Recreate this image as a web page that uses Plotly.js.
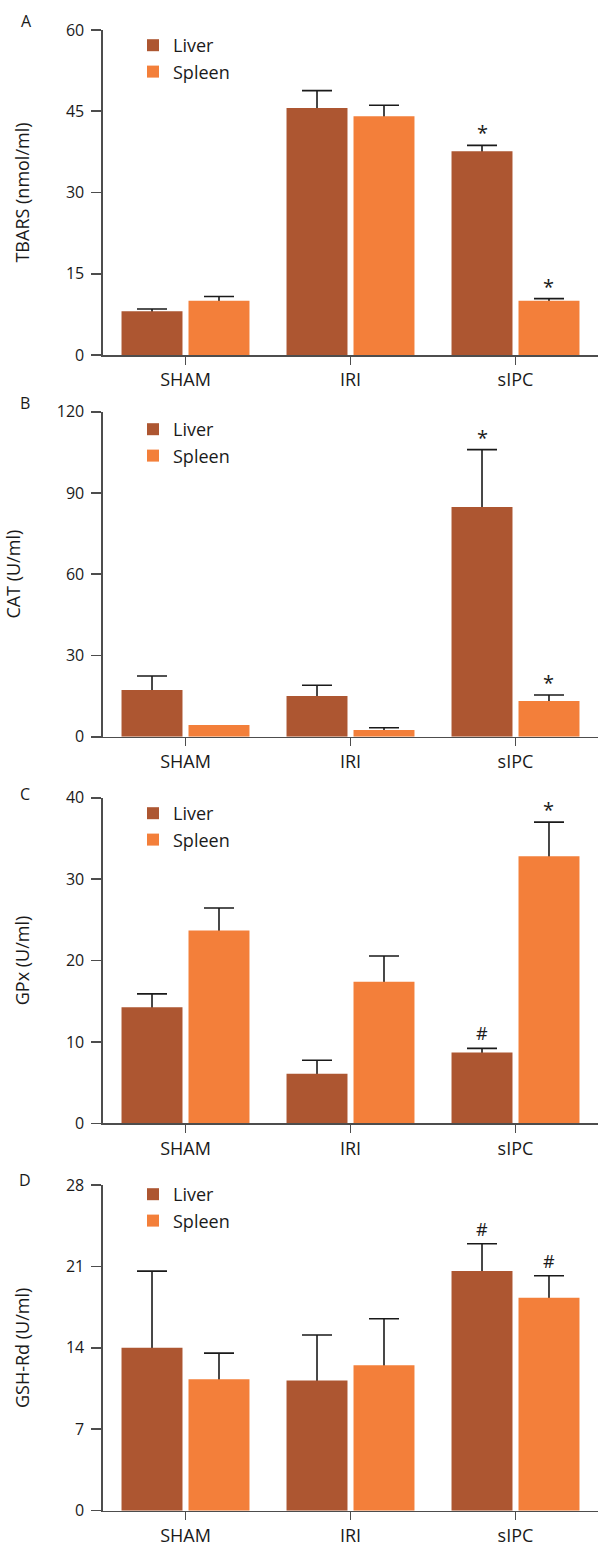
<!DOCTYPE html>
<html>
<head>
<meta charset="utf-8">
<script src="https://cdn.plot.ly/plotly-3.0.1.min.js"></script>
<style>html,body{margin:0;padding:0;background:#fff}#chart{width:599px;height:1544px}</style>
</head>
<body>
<div id="chart"></div>
<script>
// ---- data ----
const categories = ['SHAM', 'IRI', 'sIPC'];
const seriesNames = ['Liver', 'Spleen'];
const seriesColors = ['#AD5631', '#F37F3A'];
const panelLetters = ['A', 'B', 'C', 'D'];
const yTitles = ['TBARS (nmol/ml)', 'CAT (U/ml)', 'GPx (U/ml)', 'GSH-Rd (U/ml)'];
const yMax = [60, 120, 40, 28];
const yStep = [15, 30, 10, 7];

const tbarsLiver = [8.1, 45.6, 37.6];
const tbarsLiverErr = [0.4, 3.2, 1.1];
const tbarsSpleen = [10.0, 44.1, 10.0];
const tbarsSpleenErr = [0.8, 2.0, 0.4];
const tbarsLiverSig = ['', '', '*'];
const tbarsSpleenSig = ['', '', '*'];

const catLiver = [17.2, 15.0, 84.8];
const catLiverErr = [5.2, 4.0, 21.2];
const catSpleen = [4.3, 2.5, 13.2];
const catSpleenErr = [null, 0.8, 2.2];
const catLiverSig = ['', '', '*'];
const catSpleenSig = ['', '', '*'];

const gpxLiver = [14.25, 6.1, 8.7];
const gpxLiverErr = [1.65, 1.65, 0.5];
const gpxSpleen = [23.7, 17.4, 32.8];
const gpxSpleenErr = [2.75, 3.15, 4.2];
const gpxLiverSig = ['', '', '#'];
const gpxSpleenSig = ['', '', '*'];

const gshLiver = [14.0, 11.2, 20.6];
const gshLiverErr = [6.6, 3.9, 2.35];
const gshSpleen = [11.3, 12.5, 18.3];
const gshSpleenErr = [2.25, 4.0, 1.9];
const gshLiverSig = ['', '', '#'];
const gshSpleenSig = ['', '', '#'];

const panels = [
  {vals: [tbarsLiver, tbarsSpleen], errs: [tbarsLiverErr, tbarsSpleenErr], sigs: [tbarsLiverSig, tbarsSpleenSig]},
  {vals: [catLiver, catSpleen], errs: [catLiverErr, catSpleenErr], sigs: [catLiverSig, catSpleenSig]},
  {vals: [gpxLiver, gpxSpleen], errs: [gpxLiverErr, gpxSpleenErr], sigs: [gpxLiverSig, gpxSpleenSig]},
  {vals: [gshLiver, gshSpleen], errs: [gshLiverErr, gshSpleenErr], sigs: [gshLiverSig, gshSpleenSig]}
];

// ---- layout geometry (pixels) ----
const W = 599, H = 1544;
const plotTopPx = [30, 411.7, 797.7, 1185];
const plotBotPx = [355, 736.7, 1123.3, 1510.7];
const letterPx = [[26, 21], [25, 402.5], [25, 794], [25, 1180]];
const legendTopPx = [27, 411, 795, 1176];
const xDomain = [103 / W, 598 / W];
const bargap = 0.188, bargroupgap = 0.09;
const barOffset = (1 - bargap) / 4;

const FONT = '"Open Sans", sans-serif';
const TXT = '#1a1a1a';
const AX = '#4d4d4d';

const traces = [];
const layout = {
  width: W, height: H,
  margin: {l: 0, r: 0, t: 0, b: 0},
  paper_bgcolor: '#fff', plot_bgcolor: '#fff',
  barmode: 'group', bargap: bargap, bargroupgap: bargroupgap,
  font: {family: FONT, color: TXT},
  annotations: [],
  showlegend: true
};

panels.forEach((p, k) => {
  const sfx = k === 0 ? '' : String(k + 1);
  const ov = String(k + 5);          // overlay axes: bars drawn above the error bars
  const legName = 'legend' + sfx;
  // error bars (symmetric; the lower half is hidden behind the bars drawn on top)
  p.vals.forEach((v, s) => {
    traces.push({
      type: 'bar', name: seriesNames[s] + ' SD', x: categories, y: v,
      xaxis: 'x' + sfx, yaxis: 'y' + sfx, showlegend: false,
      marker: {color: 'rgba(0,0,0,0)', line: {width: 0}},
      error_y: {type: 'data', symmetric: true,
                array: p.errs[s].map(e => (e == null ? NaN : e)),
                color: '#1a1a1a', thickness: 1.6, width: 15},
      hoverinfo: 'skip'
    });
  });
  // bars
  p.vals.forEach((v, s) => {
    traces.push({
      type: 'bar', name: seriesNames[s], x: categories, y: v,
      xaxis: 'x' + ov, yaxis: 'y' + ov, legend: legName,
      marker: {color: seriesColors[s], line: {width: 0}},
      hoverinfo: 'skip'
    });
    p.sigs[s].forEach((t, i) => {
      if (!t) return;
      const e = p.errs[s][i] || 0;
      layout.annotations.push({
        xref: 'x' + sfx, yref: 'y' + sfx,
        x: i + (s === 0 ? -barOffset : barOffset), y: v[i] + e,
        text: t, showarrow: false, yanchor: 'bottom', yshift: t === '*' ? -3 : 1,
        font: {family: FONT, size: t === '*' ? 20 : 18, color: TXT}
      });
    });
  });
  const dom = [1 - plotBotPx[k] / H, 1 - plotTopPx[k] / H];
  layout['xaxis' + sfx] = {
    domain: xDomain, anchor: 'y' + sfx, type: 'category',
    range: [-0.5, 2.5], fixedrange: true,
    showline: true, linecolor: AX, linewidth: 1.6,
    ticks: 'outside', ticklen: 8, tickwidth: 1.6, tickcolor: AX,
    tickfont: {family: FONT, size: 18, color: TXT},
    showgrid: false, zeroline: false
  };
  layout['yaxis' + sfx] = {
    domain: dom, anchor: 'x' + sfx,
    range: [0, yMax[k]], tick0: 0, dtick: yStep[k], fixedrange: true,
    showline: true, linecolor: AX, linewidth: 1.6,
    ticks: 'outside', ticklen: 10, tickwidth: 1.6, tickcolor: AX,
    ticklabelstandoff: 4,
    tickfont: {family: FONT, size: 16, color: TXT},
    showgrid: false, zeroline: false,
    title: {text: yTitles[k], standoff: 31, font: {family: FONT, size: 18, color: TXT}}
  };
  layout['xaxis' + ov] = {
    overlaying: 'x' + sfx, anchor: 'y' + ov, type: 'category',
    range: [-0.5, 2.5], fixedrange: true, visible: false
  };
  layout['yaxis' + ov] = {
    overlaying: 'y' + sfx, anchor: 'x' + ov,
    range: [0, yMax[k]], fixedrange: true, visible: false
  };
  layout[legName] = {
    x: 133 / W, xanchor: 'left', y: 1 - legendTopPx[k] / H, yanchor: 'top',
    bgcolor: 'rgba(0,0,0,0)', borderwidth: 0,
    font: {family: FONT, size: 18, color: TXT}, tracegroupgap: 0,
    itemclick: false, itemdoubleclick: false
  };
  layout.annotations.push({
    xref: 'paper', yref: 'paper', x: letterPx[k][0] / W, y: 1 - letterPx[k][1] / H,
    text: panelLetters[k], showarrow: false, xanchor: 'center', yanchor: 'middle',
    font: {family: FONT, size: 16, color: TXT}
  });
});

Plotly.newPlot('chart', traces, layout, {staticPlot: true, displayModeBar: false});
</script>
</body>
</html>
